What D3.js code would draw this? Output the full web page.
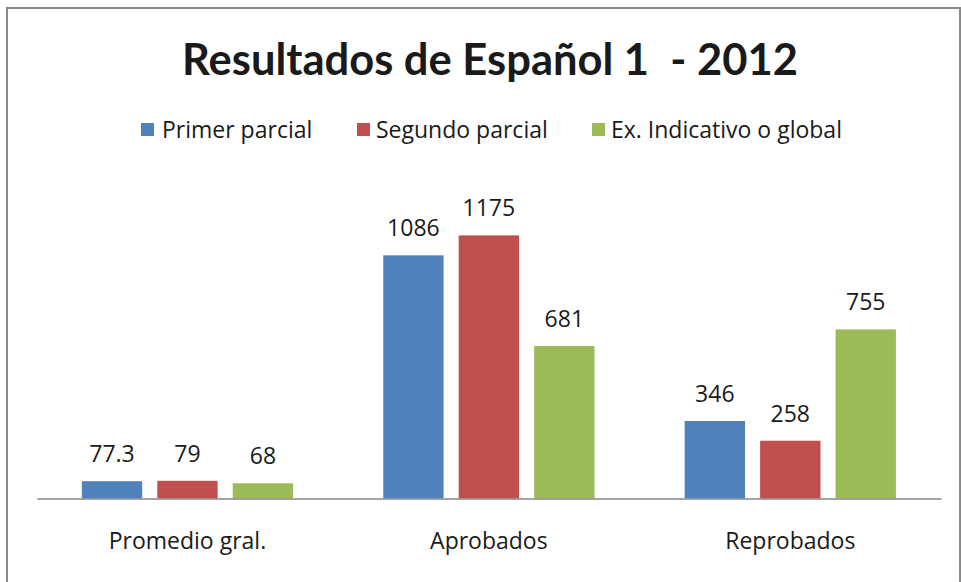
<!DOCTYPE html>
<html>
<head>
<meta charset="utf-8">
<script src="https://cdn.jsdelivr.net/npm/d3@7"></script>
<style>
  html, body { margin: 0; padding: 0; background: #fff; }
  svg { display: block; }
  text { font-family: "Open Sans", Lato, "DejaVu Sans", sans-serif; fill: #1a1a1a; }
</style>
</head>
<body>
<svg id="chart" width="961" height="582"></svg>
<script>
const title = "Resultados de Español 1  - 2012";
const categories = ["Promedio gral.", "Aprobados", "Reprobados"];
const seriesNames = ["Primer parcial", "Segundo parcial", "Ex. Indicativo o global"];
const seriesColors = ["#4F81BD", "#C0504D", "#9BBB59"];
const primerParcial = [77.3, 1086, 346];
const segundoParcial = [79, 1175, 258];
const exIndicativo = [68, 681, 755];
const valueLabels = [["77.3", "1086", "346"], ["79", "1175", "258"], ["68", "681", "755"]];
const yMax = 1400;

const series = [primerParcial, segundoParcial, exIndicativo];

const svg = d3.select("#chart");
const W = 961, H = 582;

// background + frame
svg.append("rect").attr("x", 0).attr("y", 0).attr("width", W).attr("height", H).attr("fill", "#fff");
svg.append("rect").attr("x", 7).attr("y", 8).attr("width", 953).attr("height", 600)
  .attr("fill", "#fff").attr("stroke", "#8a8a8a").attr("stroke-width", 2);

const plot = { left: 36.75, right: 941, top: 185, bottom: 498.5 };

const x0 = d3.scaleBand().domain(categories).range([plot.left, plot.right])
  .paddingInner(0.249).paddingOuter(0.1245);
const x1 = d3.scaleBand().domain(d3.range(series.length)).range([0, x0.bandwidth()])
  .paddingInner(0.2).paddingOuter(0.1);
const y = d3.scaleLinear().domain([0, yMax]).range([plot.bottom, plot.top]);

// title
svg.append("text").attr("x", 490).attr("y", 75).attr("text-anchor", "middle")
  .attr("xml:space", "preserve").style("white-space", "pre")
  .style("font-family", "Lato, 'Open Sans', sans-serif")
  .attr("font-size", 43.5).attr("font-weight", "bold").attr("fill", "#000").text(title);

// legend
const legendItems = [
  { sq: 141, tx: 162 },
  { sq: 357, tx: 376 },
  { sq: 592, tx: 611 }
];
const lg = svg.append("g");
seriesNames.forEach((name, i) => {
  lg.append("rect").attr("x", legendItems[i].sq).attr("y", 123).attr("width", 13).attr("height", 13)
    .attr("fill", seriesColors[i]);
  lg.append("text").attr("x", legendItems[i].tx).attr("y", 138).attr("font-size", 23).text(name);
});

// bars
const groups = svg.append("g").selectAll("g").data(categories).join("g")
  .attr("transform", d => `translate(${x0(d)},0)`);

series.forEach((vals, si) => {
  groups.append("rect")
    .attr("x", x1(si))
    .attr("width", x1.bandwidth())
    .attr("y", (d, ci) => y(vals[ci]))
    .attr("height", (d, ci) => y(0) - y(vals[ci]))
    .attr("fill", seriesColors[si]);
  groups.append("text")
    .attr("x", x1(si) + x1.bandwidth() / 2)
    .attr("y", (d, ci) => y(vals[ci]) - 19)
    .attr("text-anchor", "middle")
    .attr("font-size", 23)
    .text((d, ci) => valueLabels[si][ci]);
});

// axis
const axis = d3.axisBottom(x0).tickSize(0).tickPadding(50);
const ag = svg.append("g").attr("transform", `translate(0,${plot.bottom})`).call(axis);
ag.select(".domain").attr("stroke", "#868686").attr("stroke-width", 1.5);
ag.selectAll("text").attr("dy", 0).attr("font-size", 23).attr("fill", "#1a1a1a")
  .style("font-family", "'Open Sans', Lato, sans-serif");
</script>
</body>
</html>
